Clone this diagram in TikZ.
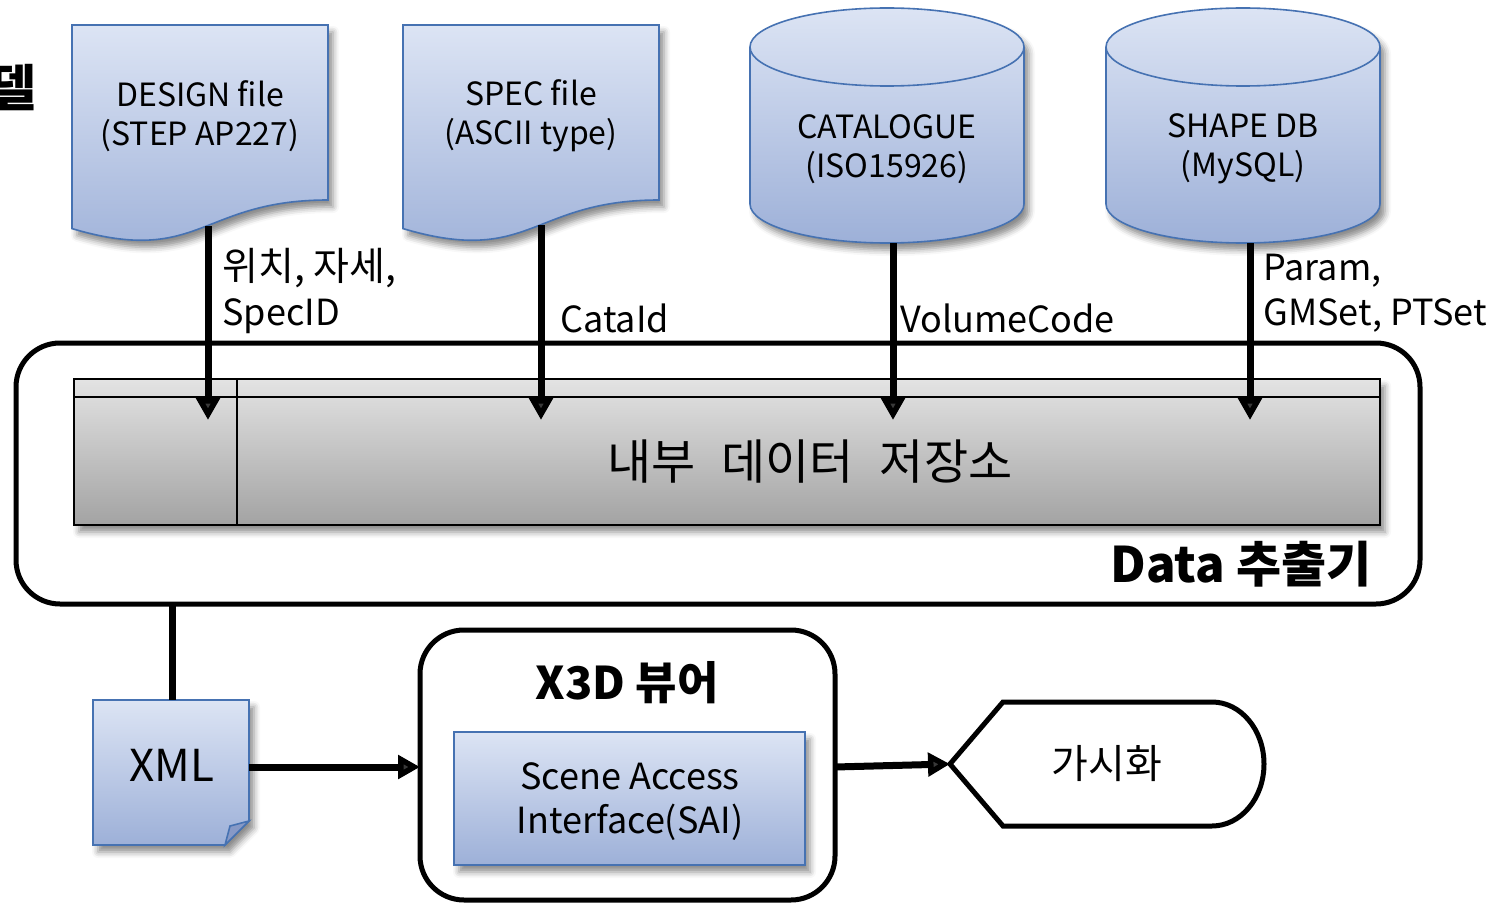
\documentclass[tikz,border=0pt]{standalone}
\usepackage{fontspec}
\setmainfont{Noto Sans CJK KR}
\newfontfamily\krwide[WordSpace=2.4]{Noto Sans CJK KR}
\usetikzlibrary{shadows.blur,arrows.meta,calc}
\definecolor{bluetop}{HTML}{DCE4F4}
\definecolor{bluebot}{HTML}{9DB0D8}
\definecolor{blueedge}{HTML}{4672B2}
\definecolor{bluefold}{HTML}{8799C6}
\definecolor{graytop}{HTML}{E3E3E3}
\definecolor{graybot}{HTML}{A3A3A3}
\tikzset{
  bluefill/.style={top color=bluetop,bottom color=bluebot,draw=blueedge,line width=0.8pt},
  grayfill/.style={top color=graytop,bottom color=graybot,draw=black,line width=0.7pt},
  softshadow/.style={blur shadow={shadow xshift=2.5pt,shadow yshift=-3.5pt,shadow blur radius=3pt,shadow opacity=45}},
  arr/.style={line width=3.5pt,-{Triangle[length=11pt,width=11.5pt]}},
  thickline/.style={line width=3.5pt},
  frame/.style={draw=black,line width=2.5pt,rounded corners=22pt},
  lbl/.style={inner sep=0pt,font=\fontsize{18}{22.5}\selectfont,align=left},
  intxt/.style={inner sep=0pt,font=\fontsize{16}{19.5}\selectfont,align=center},
}
\begin{document}
\begin{tikzpicture}[x=0.5pt,y=-0.5pt]
\useasboundingbox (0,0) rectangle (1505,904);

% partial title at the left edge (cut off as in the reference)
\node[inner sep=0pt,anchor=east,font=\fontsize{25}{30}\bfseries\selectfont] (cut) at (37,88) {델};

% Data extractor frame
\draw[frame] (16,343) rectangle (1420,604);
\node[inner sep=0pt,anchor=east,font=\fontsize{24.5}{29}\bfseries\selectfont] (ext) at (1372,564) {Data 추출기};

% internal storage table
\path[grayfill,softshadow] (74,379) rectangle (1380,525);
\draw[black,line width=0.7pt] (74,397) -- (1380,397);
\draw[black,line width=0.7pt] (237,379) -- (237,525);
\node[inner sep=0pt,font=\krwide\fontsize{24}{28}\selectfont] (store) at (810,462) {내부 데이터 저장소};

% DESIGN file document
\path[bluefill,softshadow] (72,25) -- (328,25) -- (328,200) .. controls (200,200) and (200,266.5) .. (72,228.6) -- cycle;
\node[intxt] (design) at (200,116) {DESIGN file\\(STEP AP227)};

% SPEC file document
\path[bluefill,softshadow] (403,25) -- (659,25) -- (659,200) .. controls (531,200) and (531,266.5) .. (403,228.6) -- cycle;
\node[intxt] (spec) at (531,116) {SPEC file\\(ASCII type)};

% CATALOGUE cylinder
\path[bluefill,softshadow] (750,47) -- (750,204) arc[start angle=180,end angle=0,x radius=137,y radius=39] -- (1024,47) arc[start angle=0,end angle=-180,x radius=137,y radius=39] -- cycle;
\draw[blueedge,line width=0.8pt] (750,47) arc[start angle=180,end angle=0,x radius=137,y radius=39];
\node[intxt] (cat) at (887,149) {CATALOGUE\\(ISO15926)};

% SHAPE DB cylinder
\path[bluefill,softshadow] (1106,47) -- (1106,204) arc[start angle=180,end angle=0,x radius=137,y radius=39] -- (1380,47) arc[start angle=0,end angle=-180,x radius=137,y radius=39] -- cycle;
\draw[blueedge,line width=0.8pt] (1106,47) arc[start angle=180,end angle=0,x radius=137,y radius=39];
\node[intxt] (shape) at (1243,149) {SHAPE DB\\(MySQL)};

% connector end points
\coordinate (d1) at (208,226);  \coordinate (t1) at (208,420);
\coordinate (d2) at (541,225);  \coordinate (t2) at (541,420);
\coordinate (d3) at (893,243);  \coordinate (t3) at (893,420);
\coordinate (d4) at (1250,243); \coordinate (t4) at (1250,420);
\draw[arr] (d1) -- (t1);
\draw[arr] (d2) -- (t2);
\draw[arr] (d3) -- (t3);
\draw[arr] (d4) -- (t4);

\node[lbl,anchor=west] (l1) at (222,291) {{\fontsize{19.5}{22.5}\selectfont 위치, 자세,}\\SpecID};
\node[lbl,anchor=west] (l2) at (560,318) {CataId};
\node[lbl,anchor=west] (l3) at (900,318) {VolumeCode};
\node[lbl,anchor=west] (l4) at (1263,293) {Param,\\GMSet, PTSet};

% XML document
\path[bluefill,softshadow] (93,700) -- (249,700) -- (249,821) -- (225,845) -- (93,845) -- cycle;
\path[fill=bluefold,draw=blueedge,line width=0.8pt] (225,845) -- (230,826) -- (249,821) -- cycle;
\node[inner sep=0pt,font=\fontsize{22}{26}\selectfont] (xml) at (172,765) {XML};
\coordinate (ext1) at (172,604);
\draw[thickline] (ext1) -- (xml.center |- 0,700);

% X3D viewer
\draw[frame] (420,630) rectangle (835,900);
\node[inner sep=0pt,font=\fontsize{22.5}{27}\bfseries\selectfont] (x3d) at (627,683) {X3D 뷰어};
\path[bluefill,softshadow] (454,732) rectangle (805,865);
\node[intxt,font=\fontsize{18}{22}\selectfont] (sai) at (630,802) {Scene Access\\Interface(SAI)};
\coordinate (v1) at (249,767); \coordinate (v2) at (420,767);
\draw[arr] (v1) -- (v2);

% display shape
\draw[black,line width=2.5pt,line join=miter] (950,764) -- (1003,702) -- (1212,702) arc[start angle=-90,end angle=90,x radius=52,y radius=62] -- (1003,826) -- cycle;
\node[inner sep=0pt,font=\fontsize{20}{24}\selectfont] (vis) at (1107,764) {가시화};
\coordinate (w1) at (835,767); \coordinate (w2) at (950,764);
\draw[arr] (w1) -- (w2);
\end{tikzpicture}
\end{document}
